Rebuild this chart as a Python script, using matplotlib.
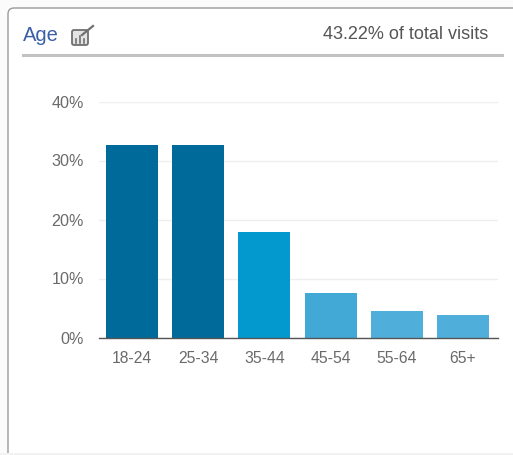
import matplotlib
matplotlib.use("Agg")
import matplotlib.pyplot as plt
from matplotlib.patches import FancyBboxPatch, Rectangle
from matplotlib.lines import Line2D

categories = ["18-24", "25-34", "35-44", "45-54", "55-64", "65+"]
values = [32.7, 32.7, 17.8, 7.5, 4.5, 3.8]
colors = ["#006A9A", "#006A9A", "#0399CE", "#42A9D6", "#4FAFDA", "#4FAFDA"]
yticks = [0, 10, 20, 30, 40]
title = "Age"
subtitle = "43.22% of total visits"

W, H = 513, 455
plt.rcParams['font.family'] = ['Liberation Sans', 'DejaVu Sans']
fig = plt.figure(figsize=(W/100, H/100), dpi=100, facecolor="#FBFBFB")

def fx(p): return p / W
def fy(p): return 1 - p / H

# card
fig.add_artist(FancyBboxPatch((8, H-470), 540, 462, boxstyle="round,pad=0,rounding_size=6",
                              transform=None, fc="white", ec="#9A9A9A", lw=1.0, zorder=-2))
fig.add_artist(Rectangle((0, 0), W, 2, transform=None, fc="#F2F2F2", ec="none", zorder=-1))

# header
fig.text(fx(23), fy(35.5), title, color="#3A5FA8", fontsize=14.5, va="center", ha="left")
fig.text(fx(488), fy(34.5), subtitle, color="#555555", fontsize=13, va="center", ha="right")
fig.add_artist(Line2D([fx(23), fx(502)], [fy(55), fy(55)], color="#C2C2C2", lw=2.2))

# icon
fig.add_artist(FancyBboxPatch((72, H-45), 16, 15, boxstyle="round,pad=0,rounding_size=2",
                              transform=None, fc="#E4E4E4", ec="#707070", lw=1.3))
fig.add_artist(Line2D([fx(82), fx(93)], [fy(35), fy(26)], color="#707070", lw=1.6))
for x, t in [(76, 39), (80, 36), (84, 39)]:
    fig.add_artist(Line2D([fx(x), fx(x)], [fy(t), fy(43)], color="#707070", lw=1.2))

# axes: plot area from x=99..498, y=338 (0%) to y=102 (40%)
ax = fig.add_axes([fx(99), fy(337.5), (498-99)/W, (337.5-101.5)/H], zorder=1)
ax.set_facecolor("none")
ax.bar(range(len(categories)), values, width=0.785, color=colors, zorder=3)
ax.set_xlim(-0.5, 5.53)
ax.set_ylim(0, 40)
ax.set_xticks(range(len(categories)))
ax.set_xticklabels(categories)
ax.set_yticks(yticks)
ax.set_yticklabels([f"{v}%" for v in yticks])
ax.tick_params(axis="both", length=0, labelcolor="#6A6A6A")
ax.tick_params(axis="x", pad=10, labelsize=11.3)
ax.tick_params(axis="y", pad=11, labelsize=11.6)
ax.grid(axis="y", color="#EFEFEF", lw=1, zorder=0)
ax.set_axisbelow(True)
for s in ["top", "right", "left"]:
    ax.spines[s].set_visible(False)
ax.spines["bottom"].set_color("#555555")
ax.spines["bottom"].set_linewidth(1)
ax.spines["bottom"].set_zorder(5)

fig.savefig("out.png", dpi=100, facecolor=fig.get_facecolor())
